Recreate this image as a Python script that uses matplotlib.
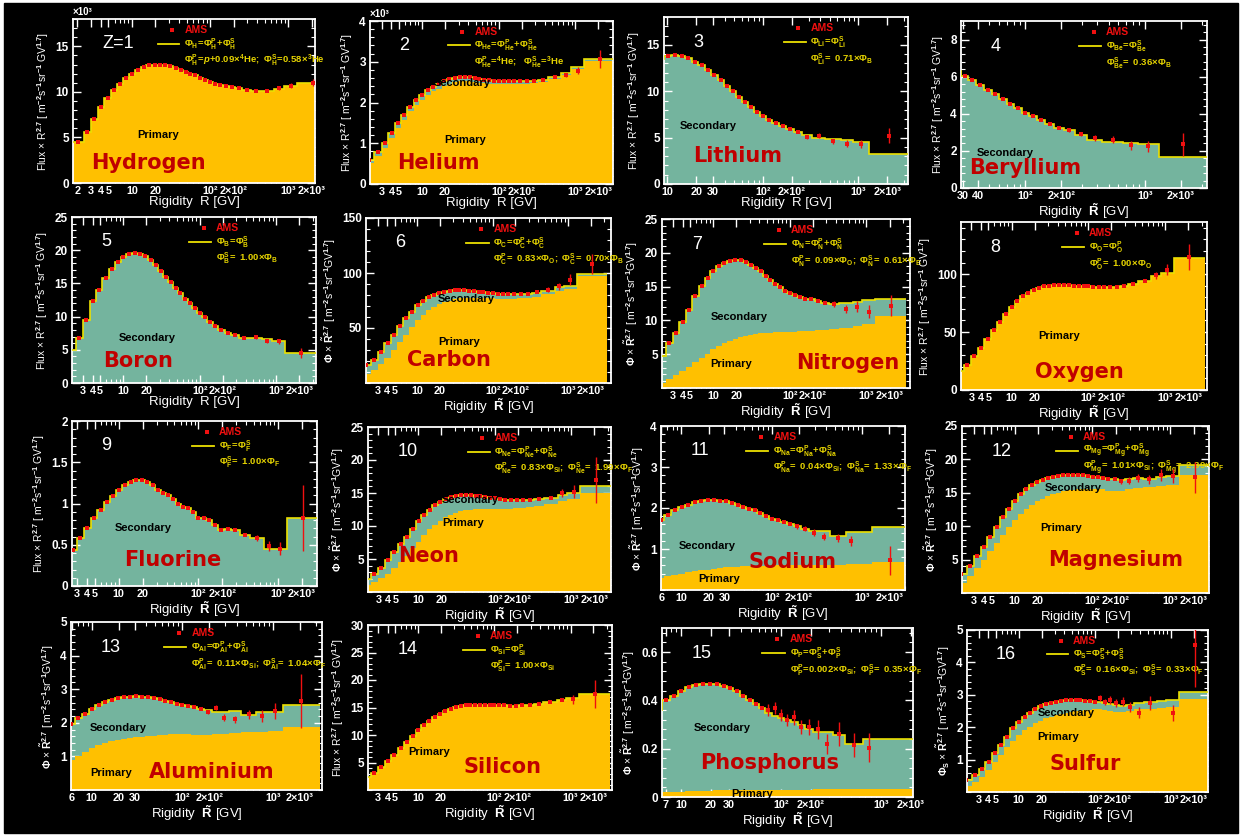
import numpy as np
import matplotlib.pyplot as plt
from matplotlib.patches import Rectangle
from matplotlib.ticker import (FixedLocator, FixedFormatter, LogLocator, NullFormatter,
                               AutoMinorLocator, FormatStrFormatter)

plt.rcParams['font.family'] = 'Liberation Sans'
plt.rcParams['font.weight'] = 'bold'
plt.rcParams['mathtext.fontset'] = 'custom'
plt.rcParams['mathtext.rm'] = 'Liberation Sans:bold'
plt.rcParams['mathtext.bf'] = 'Liberation Sans:bold'
plt.rcParams['mathtext.it'] = 'Liberation Sans:italic:bold'
plt.rcParams['mathtext.default'] = 'bf'

# rigidity bin edges [GV]
edges = [1.75, 2.40, 2.97, 3.64, 4.43, 5.37, 6.47, 7.76, 9.26, 11.0, 13.0, 15.3, 18.0, 21.1,
         24.7, 28.8, 33.5, 38.9, 45.1, 52.2, 60.3, 69.7, 80.5, 93.0, 108, 125, 147, 175, 211,
         259, 330, 441, 660, 880, 1300, 3300]

# flux x R^2.7 per bin: model total, primary part, AMS points that differ (last bins) + errors
h_tot = [4.5, 5.6, 7.0, 8.3, 9.3, 10.2, 10.9, 11.5, 12.0, 12.4, 12.7, 12.9, 13.0, 13.0, 12.9, 12.8,
         12.6, 12.4, 12.2, 12.0, 11.8, 11.5, 11.3, 11.1, 10.9, 10.8, 10.6, 10.5, 10.4, 10.2, 10.1,
         10.1, 10.3, 10.6, 11.0]
h_ams = [10.15, 10.4, 10.7, 11.0]
h_err = [0.1, 0.15, 0.25, 0.4]

he_tot = [0.6, 0.78, 1.0, 1.25, 1.5, 1.7, 1.9, 2.06, 2.19, 2.31, 2.38, 2.45, 2.52, 2.57, 2.61, 2.63,
          2.63, 2.62, 2.6, 2.58, 2.56, 2.54, 2.53, 2.53, 2.53, 2.52, 2.52, 2.52, 2.52, 2.53, 2.56,
          2.62, 2.72, 2.86, 3.06]
he_prim = [0.52, 0.68, 0.89, 1.13, 1.38, 1.58, 1.78, 1.94, 2.07, 2.19, 2.27, 2.34, 2.41, 2.46, 2.5,
           2.52, 2.53, 2.52, 2.5, 2.49, 2.47, 2.46, 2.45, 2.45, 2.45, 2.45, 2.45, 2.45, 2.46, 2.47,
           2.5, 2.57, 2.67, 2.81, 3.02]
he_ams = [2.68, 2.78, 3.06]
he_err = [0.05, 0.08, 0.22]

li_tot = [6.0, 7.5, 9.0, 10.5, 11.5, 12.4, 13.0, 13.5, 13.8, 13.9, 13.85, 13.6, 13.2, 12.8, 12.3,
          11.8, 11.2, 10.6, 10.0, 9.35, 8.8, 8.3, 7.8, 7.3, 6.9, 6.55, 6.2, 5.9, 5.65, 5.3, 4.95,
          4.8, 4.75, 4.5, 3.2]
li_ams = [5.6, 5.1, 5.2, 4.6, 4.35, 4.3, 5.2]
li_err = [0.15, 0.2, 0.25, 0.3, 0.35, 0.4, 0.8]

be_tot = [3.0, 3.6, 4.3, 5.0, 5.6, 6.1, 6.5, 6.8, 7.0, 7.1, 7.1, 7.0, 6.8, 6.6, 6.3, 6.05, 5.8,
          5.55, 5.3, 5.05, 4.8, 4.55, 4.3, 4.05, 3.9, 3.65, 3.45, 3.25, 3.1, 2.85, 2.6, 2.5, 2.45,
          2.35, 1.65]
be_ams = [3.1, 2.9, 2.7, 2.6, 2.3, 2.25, 2.35]
be_err = [0.1, 0.12, 0.15, 0.2, 0.25, 0.3, 0.6]

b_tot = [4.9, 6.8, 9.5, 12.3, 14.0, 15.8, 17.1, 18.2, 19.0, 19.5, 19.6, 19.4, 19.1, 18.5, 17.8,
         16.9, 16.0, 15.2, 14.3, 13.5, 12.7, 12.0, 11.3, 10.6, 9.9, 9.2, 8.6, 8.0, 7.6, 7.2, 6.8,
         6.8, 6.6, 6.3, 4.5]
b_ams = [6.8, 6.9, 6.3, 6.3, 4.5]
b_err = [0.2, 0.3, 0.35, 0.4, 0.8]

c_tot = [16, 21, 28, 36, 44, 52, 59, 65, 70.5, 75, 78, 80, 82, 83, 84, 84.5, 84.5, 84.5, 84, 83.5,
         83, 82.5, 82, 81.5, 81, 81, 80.5, 80.5, 80.5, 81, 82, 84, 87, 88.5, 99]
c_prim = [8.5, 12, 17, 23, 30, 37, 44, 51, 57, 62, 66, 69, 71.5, 73.5, 75, 76, 77, 77.5, 77.5, 77.5,
          77.5, 77.5, 77, 77, 76.5, 76.5, 76.5, 76.5, 77, 77.5, 78.5, 80.5, 84, 85.5, 97]
c_ams = [83, 85, 88, 94, 108]
c_err = [1.5, 2, 3, 5, 9]

n_tot = [4.75, 6.7, 8.2, 9.7, 11.6, 13.6, 15.1, 16.3, 17.3, 18.0, 18.5, 18.8, 19.0, 18.9, 18.6,
         18.2, 17.7, 17.3, 16.6, 16.0, 15.4, 14.9, 14.4, 14.0, 13.7, 13.4, 13.2, 13.1, 12.8, 12.6,
         12.45, 12.6, 12.7, 13.0, 13.2]
n_prim = [0.8, 1.3, 1.9, 2.5, 3.1, 3.8, 4.5, 5.1, 5.7, 6.2, 6.6, 7.0, 7.3, 7.5, 7.7, 7.9, 8.0, 8.1,
          8.15, 8.2, 8.25, 8.3, 8.3, 8.35, 8.35, 8.4, 8.4, 8.5, 8.55, 8.6, 8.7, 8.9, 9.1, 9.4, 10.6]
n_ams = [12.4, 11.7, 12.0, 11.3, 12.2]
n_err = [0.4, 0.6, 0.8, 1.0, 1.6]

o_tot = [16, 22, 29, 36, 44, 52, 59, 66, 72, 77, 81, 84, 86.5, 88, 89.5, 90, 90.5, 90.5, 90.5,
         90.5, 90, 90, 89.5, 89.5, 89, 89, 88.5, 88.5, 89, 90, 91.5, 94, 98, 101, 114]
o_ams = [99, 104, 115]
o_err = [3, 5, 11]

f_tot = [0.4, 0.44, 0.58, 0.70, 0.82, 0.92, 1.02, 1.09, 1.16, 1.22, 1.26, 1.28, 1.28, 1.26, 1.23,
         1.16, 1.13, 1.10, 1.06, 1.0, 0.96, 0.94, 0.90, 0.82, 0.82, 0.8, 0.74, 0.68, 0.69, 0.68,
         0.62, 0.58, 0.45, 0.45, 0.83]
f_ams = [0.58, 0.48, 0.45, 0.83]
f_err = [0.04, 0.06, 0.08, 0.4]

ne_tot = [2.0, 2.8, 3.7, 4.8, 6.0, 7.2, 8.4, 9.6, 10.7, 11.7, 12.5, 13.2, 13.7, 14.1, 14.4, 14.6,
          14.7, 14.7, 14.7, 14.6, 14.5, 14.4, 14.3, 14.2, 14.1, 14.0, 13.9, 13.9, 13.9, 14.0, 14.1,
          14.3, 14.7, 15.0, 16.0]
ne_prim = [1.0, 1.5, 2.1, 2.8, 3.6, 4.5, 5.5, 6.6, 7.6, 8.6, 9.5, 10.2, 10.8, 11.3, 11.7, 12.0,
           12.2, 12.4, 12.5, 12.6, 12.6, 12.6, 12.6, 12.6, 12.6, 12.6, 12.6, 12.7, 12.8, 12.9, 13.1,
           13.4, 13.8, 14.1, 15.0]
ne_ams = [15.0, 15.2, 17.0]
ne_err = [0.6, 1.0, 3.5]

na_tot = [0.9, 1.05, 1.2, 1.35, 1.5, 1.7, 1.84, 1.94, 2.02, 2.08, 2.14, 2.18, 2.2, 2.2, 2.18, 2.16,
          2.12, 2.08, 2.02, 1.98, 1.94, 1.88, 1.8, 1.72, 1.7, 1.66, 1.6, 1.56, 1.5, 1.44, 1.44,
          1.32, 1.42, 1.42, 1.54]
na_prim = [0.1, 0.13, 0.16, 0.2, 0.24, 0.29, 0.33, 0.37, 0.4, 0.43, 0.46, 0.48, 0.5, 0.52, 0.54,
           0.55, 0.56, 0.57, 0.575, 0.58, 0.585, 0.59, 0.59, 0.595, 0.6, 0.6, 0.6, 0.61, 0.61,
           0.615, 0.62, 0.62, 0.63, 0.64, 0.68]
na_ams = [1.55, 1.5, 1.4, 1.3, 1.27, 1.2, np.nan, 0.72]
na_err = [0.06, 0.07, 0.08, 0.09, 0.1, 0.12, np.nan, 0.35]

mg_tot = [2.9, 4.0, 5.5, 6.9, 8.4, 9.9, 11.4, 12.6, 13.8, 14.8, 15.6, 16.1, 16.6, 16.9, 17.2, 17.4,
          17.5, 17.6, 17.7, 17.7, 17.6, 17.6, 17.5, 17.4, 17.3, 17.2, 17.1, 17.0, 16.9, 17.0, 17.2,
          17.1, 17.4, 17.45, 19.1]
mg_prim = [1.5, 2.5, 3.7, 5.0, 6.3, 7.5, 8.7, 9.9, 10.9, 11.8, 12.6, 13.2, 13.7, 14.1, 14.5, 14.8,
           15.0, 15.2, 15.35, 15.45, 15.5, 15.55, 15.6, 15.6, 15.6, 15.5, 15.3, 15.2, 15.2, 15.5,
           15.7, 15.8, 16.0, 16.2, 17.6]
mg_ams = [16.7, 16.8, 17.2, 17.0, 17.6, 17.5, 17.3]
mg_err = [0.4, 0.5, 0.6, 0.7, 0.9, 1.1, 2.3]

al_tot = [1.0, 1.2, 1.4, 1.6, 1.78, 1.97, 2.14, 2.27, 2.41, 2.53, 2.61, 2.67, 2.73, 2.76, 2.78,
          2.79, 2.78, 2.77, 2.75, 2.71, 2.66, 2.61, 2.56, 2.53, 2.51, 2.46, 2.41, 2.39, 2.32, 2.32,
          2.34, 2.24, 2.32, 2.32, 2.53]
al_prim = [0.3, 0.4, 0.5, 0.6, 0.72, 0.88, 1.02, 1.14, 1.24, 1.33, 1.4, 1.45, 1.49, 1.52, 1.55,
           1.57, 1.59, 1.6, 1.62, 1.64, 1.65, 1.66, 1.67, 1.67, 1.66, 1.64, 1.63, 1.64, 1.67, 1.68,
           1.69, 1.72, 1.74, 1.75, 1.87]
al_ams = [2.33, 2.45, 2.15, 2.1, 2.25, 2.2, 2.35, 2.65]
al_err = [0.06, 0.08, 0.1, 0.1, 0.13, 0.18, 0.25, 0.8]

si_tot = [2.3, 3.1, 4.1, 5.2, 6.4, 7.6, 8.8, 9.9, 10.9, 11.8, 12.6, 13.3, 13.9, 14.4, 14.8, 15.1,
          15.3, 15.4, 15.5, 15.5, 15.5, 15.5, 15.5, 15.4, 15.4, 15.4, 15.3, 15.3, 15.4, 15.5, 15.7,
          16.0, 16.4, 16.8, 17.5]
si_ams = [16.5, 17.5]
si_err = [0.8, 2.5]

p_tot = [0.2, 0.23, 0.26, 0.3, 0.33, 0.36, 0.40, 0.42, 0.44, 0.455, 0.465, 0.47, 0.47, 0.47, 0.46,
         0.45, 0.44, 0.42, 0.40, 0.384, 0.367, 0.35, 0.337, 0.326, 0.32, 0.31, 0.297, 0.28, 0.27,
         0.268, 0.258, 0.22, 0.242, 0.242, 0.242]
p_prim = [0.008, 0.01, 0.012, 0.014, 0.016, 0.018, 0.02, 0.021, 0.022, 0.023, 0.024, 0.025, 0.026,
          0.027, 0.028, 0.028, 0.029, 0.029, 0.03, 0.03, 0.03, 0.031, 0.031, 0.031, 0.031, 0.031,
          0.031, 0.031, 0.032, 0.032, 0.032, 0.033, 0.033, 0.033, 0.034]
p_ams = [0.36, 0.37, 0.34, 0.32, 0.33, 0.29, 0.29, 0.28, 0.22, 0.26, 0.215, 0.205, np.nan, np.nan]
p_err = [0.025, 0.025, 0.025, 0.025, 0.03, 0.03, 0.035, 0.04, 0.04, 0.05, 0.05, 0.06, np.nan, np.nan]

s_tot = [0.38, 0.53, 0.71, 0.94, 1.2, 1.46, 1.71, 1.97, 2.17, 2.33, 2.45, 2.55, 2.64, 2.72, 2.76,
         2.79, 2.82, 2.84, 2.84, 2.84, 2.83, 2.82, 2.81, 2.79, 2.77, 2.74, 2.72, 2.69, 2.66, 2.69,
         2.76, 2.79, 2.81, 2.84, 3.1]
s_prim = [0.17, 0.3, 0.47, 0.68, 0.92, 1.15, 1.38, 1.58, 1.75, 1.9, 2.02, 2.12, 2.2, 2.27, 2.33,
          2.38, 2.42, 2.45, 2.47, 2.49, 2.51, 2.53, 2.54, 2.55, 2.55, 2.53, 2.5, 2.48, 2.46, 2.5,
          2.55, 2.57, 2.59, 2.61, 2.87]
s_ams = [2.9, 2.78, 2.85, 2.75, 2.78, 2.62, 2.45, 2.75, np.nan, 2.45, 4.55]
s_err = [0.1, 0.1, 0.12, 0.12, 0.14, 0.15, 0.18, 0.22, np.nan, 0.25, 1.3]

tick_text = {2: '2', 3: '3', 4: '4', 5: '5', 6: '6', 7: '7', 10: '10', 20: '20', 30: '30', 40: '40',
             100: '10²', 200: '2×10²', 1000: '10³', 2000: '2×10³'}
X_LOW = [2, 3, 4, 5, 10, 20, 100, 200, 1000, 2000]
X_STD = [3, 4, 5, 10, 20, 100, 200, 1000, 2000]

FLUX = r'Flux × R$^{2.7}$ [ m$^{-2}$s$^{-1}$sr$^{-1}$ GV$^{1.7}$]'
PHI = r'$\Phi$ × $\tilde{R}^{2.7}$ [ m$^{-2}$s$^{-1}$sr$^{-1}$GV$^{1.7}$]'
PHIS = r'$\Phi_S$ × $\tilde{R}^{2.7}$ [ m$^{-2}$s$^{-1}$sr$^{-1}$GV$^{1.7}$]'
XR = 'Rigidity  R [GV]'
XRT = r'Rigidity  $\tilde{R}$ [GV]'

W, H = 1248, 835
YEL = '#ffc000'
TEAL = '#74b49e'
LINE = '#ece000'
RED = '#f01010'
NAME = '#c00000'
FORM = '#e6d400'


def pf(el, a, b, pa, pb):
    return (rf'$\Phi_{{{el}}}\!=\!\Phi_{{{el}}}^P\!+\!\Phi_{{{el}}}^S$',
            rf'$\Phi_{{{el}}}^P\!=\ {a}\!\times\!\Phi_{{{pa}}};\ \Phi_{{{el}}}^S\!=\ {b}\!\times\!\Phi_{{{pb}}}$')


def sf(el, k, src, sup='S'):
    return (rf'$\Phi_{{{el}}}\!=\!\Phi_{{{el}}}^{sup}$', rf'$\Phi_{{{el}}}^{sup}\!=\ {k}\!\times\!\Phi_{{{src}}}$')


panels = [
    dict(box=(73, 315, 19, 183), name='Hydrogen', num='Z=1', tot=h_tot, prim=h_tot, ams=h_ams, err=h_err,
         xlim=(1.76, 2200), ylim=(0, 18), yt=[0, 5, 10, 15], xt=X_LOW, yl=FLUX, xl=XR, legx=0.46,
         form=(r'$\Phi_H\!=\!\Phi_H^P\!+\!\Phi_H^S$',
               r'$\Phi_H^P\!=\!\mathit{p}\!+\!0.09\!\times\!{}^4He;\ \Phi_H^S\!=\!0.58\!\times\!{}^3He$'),
         npos=(0.31, 0.12), labs=[('Primary', 0.35, 0.29)], scale=True),
    dict(box=(370, 613, 21, 184), name='Helium', num='2', tot=he_tot, prim=he_prim, ams=he_ams, err=he_err,
         xlim=(2.1, 3100), ylim=(0, 4), yt=[0, 1, 2, 3, 4], xt=X_STD, yl=FLUX, xl=XR, legx=0.43,
         form=(r'$\Phi_{He}\!=\!\Phi_{He}^P\!+\!\Phi_{He}^S$', r'$\Phi_{He}^P\!=\!{}^4He;\ \ \Phi_{He}^S\!=\!{}^3He$'),
         npos=(0.28, 0.13), labs=[('Primary', 0.39, 0.27), ('Secondary', 0.38, 0.62)], scale=True),
    dict(box=(664, 908, 17, 184), name='Lithium', num='3', tot=li_tot, prim=None, ams=li_ams, err=li_err,
         xlim=(9.2, 3300), ylim=(0, 18), yt=[0, 5, 10, 15], xt=[10, 20, 30, 100, 200, 1000, 2000],
         yl=FLUX, xl=XR, legx=0.60, form=sf('Li', '0.71', 'B'), npos=(0.30, 0.17),
         labs=[('Secondary', 0.18, 0.35)]),
    dict(box=(961, 1207, 21, 188), name='Beryllium', num='4', tot=be_tot, prim=None, ams=be_ams, err=be_err,
         xlim=(29, 3300), ylim=(0, 9), yt=[0, 2, 4, 6, 8], xt=[30, 40, 100, 200, 1000, 2000],
         yl=FLUX, xl=XRT, legx=0.59, form=sf('Be', '0.36', 'B'), npos=(0.26, 0.12),
         labs=[('Secondary', 0.18, 0.21)]),
    dict(box=(72, 316, 217, 383), name='Boron', num='5', tot=b_tot, prim=None, ams=b_ams, err=b_err,
         xlim=(2.15, 3300), ylim=(0, 25), yt=[0, 5, 10, 15, 20, 25], xt=X_STD, yl=FLUX, xl=XR, legx=0.59,
         form=sf('B', '1.00', 'B'), npos=(0.27, 0.13), labs=[('Secondary', 0.31, 0.27)]),
    dict(box=(366, 611, 218, 383), name='Carbon', num='6', tot=c_tot, prim=c_prim, ams=c_ams, err=c_err,
         xlim=(2.08, 3700), ylim=(0, 150), yt=[50, 100, 150], xt=X_STD, yl=PHI, xl=XRT, legx=0.52,
         form=pf('C', '0.83', '0.70', 'O', 'B'), npos=(0.34, 0.14),
         labs=[('Secondary', 0.41, 0.51), ('Primary', 0.38, 0.25)]),
    dict(box=(662, 910, 219, 388), name='Nitrogen', num='7', tot=n_tot, prim=n_prim, ams=n_ams, err=n_err,
         xlim=(2.16, 3700), ylim=(0, 25), yt=[5, 10, 15, 20, 25], xt=X_STD, yl=PHI, xl=XRT, legx=0.52,
         form=pf('N', '0.09', '0.61', 'O', 'B'), npos=(0.75, 0.15),
         labs=[('Secondary', 0.31, 0.42), ('Primary', 0.28, 0.14)]),
    dict(box=(961, 1207, 222, 390), name='Oxygen', num='8', tot=o_tot, prim=o_tot, ams=o_ams, err=o_err,
         xlim=(2.2, 3500), ylim=(0, 145), yt=[0, 50, 100], xt=X_STD, yl=FLUX, xl=XRT, legx=0.52,
         form=sf('O', '1.00', 'O', 'P'), npos=(0.48, 0.11), labs=[('Primary', 0.40, 0.32)]),
    dict(box=(72, 317, 421, 586), name='Fluorine', num='9', tot=f_tot, prim=None, ams=f_ams, err=f_err,
         xlim=(2.58, 3100), ylim=(0, 2), yt=[0, 0.5, 1, 1.5, 2], xt=X_STD, yl=FLUX, xl=XRT, legx=0.60,
         form=sf('F', '1.00', 'F'), npos=(0.41, 0.16), labs=[('Secondary', 0.29, 0.35)]),
    dict(box=(368, 611, 427, 592), name='Neon', num='10', tot=ne_tot, prim=ne_prim, ams=ne_ams, err=ne_err,
         xlim=(2.2, 3300), ylim=(0, 25), yt=[5, 10, 15, 20, 25], xt=X_STD, yl=PHI, xl=XRT, legx=0.52,
         form=pf('Ne', '0.83', '1.99', 'Si', 'F'), npos=(0.25, 0.22),
         labs=[('Secondary', 0.42, 0.56), ('Primary', 0.39, 0.42)]),
    dict(box=(661, 905, 426, 590), name='Sodium', num='11', tot=na_tot, prim=na_prim, ams=na_ams, err=na_err,
         xlim=(5.95, 3000), ylim=(0, 4), yt=[1, 2, 3, 4], xt=[6, 10, 20, 30, 100, 200, 1000, 2000],
         yl=PHI, xl=XRT, legx=0.46, form=pf('Na', '0.04', '1.33', 'Si', 'F'), npos=(0.54, 0.17),
         labs=[('Secondary', 0.19, 0.27), ('Primary', 0.24, 0.07)]),
    dict(box=(962, 1209, 426, 593), name='Magnesium', num='12', tot=mg_tot, prim=mg_prim, ams=mg_ams, err=mg_err,
         xlim=(2.1, 3150), ylim=(0, 25), yt=[5, 10, 15, 20, 25], xt=X_STD, yl=PHI, xl=XRT, legx=0.49,
         form=pf('Mg', '1.01', '2.39', 'Si', 'F'), npos=(0.62, 0.20),
         labs=[('Secondary', 0.45, 0.63), ('Primary', 0.40, 0.39)]),
    dict(box=(71, 322, 622, 790), name='Aluminium', num='13', tot=al_tot, prim=al_prim, ams=al_ams, err=al_err,
         xlim=(5.9, 3500), ylim=(0, 5), yt=[1, 2, 3, 4, 5], xt=[6, 10, 20, 30, 100, 200, 1000, 2000],
         yl=PHI, xl=XRT, legx=0.48, form=pf('Al', '0.11', '1.04', 'Si', 'F'), npos=(0.56, 0.11),
         labs=[('Secondary', 0.19, 0.37), ('Primary', 0.16, 0.10)]),
    dict(box=(368, 612, 625, 790), name='Silicon', num='14', tot=si_tot, prim=si_tot, ams=si_ams, err=si_err,
         xlim=(2.2, 3500), ylim=(0, 30), yt=[5, 10, 15, 20, 25, 30], xt=X_STD, yl=FLUX, xl=XRT, legx=0.50,
         form=sf('Si', '1.00', 'Si', 'P'), npos=(0.55, 0.14), labs=[('Primary', 0.25, 0.23)]),
    dict(box=(662, 913, 628, 797), name='Phosphorus', num='15', tot=p_tot, prim=p_prim, ams=p_ams, err=p_err,
         xlim=(6.45, 2100), ylim=(0, 0.7), yt=[0, 0.2, 0.4, 0.6], xt=[7, 10, 20, 30, 100, 200, 1000, 2000],
         yl=PHI, xl=XRT, legx=0.51,
         form=(r'$\Phi_P\!=\!\Phi_S^P\!+\!\Phi_P^S$',
               r'$\Phi_P^P\!=\!0.002\!\times\!\Phi_{Si};\ \Phi_P^S\!=\ 0.35\!\times\!\Phi_F$'),
         npos=(0.43, 0.20), labs=[('Secondary', 0.24, 0.41), ('Primary', 0.36, 0.02)]),
    dict(box=(967, 1208, 630, 792), name='Sulfur', num='16', tot=s_tot, prim=s_prim, ams=s_ams, err=s_err,
         xlim=(2.09, 3100), ylim=(0, 5), yt=[1, 2, 3, 4, 5], xt=X_STD, yl=PHIS, xl=XRT, legx=0.44,
         form=pf('S', '0.16', '0.33', 'Si', 'F'), npos=(0.49, 0.17),
         labs=[('Secondary', 0.41, 0.49), ('Primary', 0.38, 0.34)]),
]

fig = plt.figure(figsize=(W / 100, H / 100), dpi=100, facecolor='white')
fig.patches.append(Rectangle((4 / W, 2 / H), 1234 / W, 830 / H, transform=fig.transFigure,
                             color='black', zorder=-10))

centres = np.sqrt(np.array(edges[:-1]) * np.array(edges[1:]))

for p in panels:
    l, r, t, b = p['box']
    ax = fig.add_axes([l / W, 1 - b / H, (r - l) / W, (b - t) / H])
    ax.set_facecolor('black')
    ax.set_xscale('log')

    ax.stairs(p['tot'], edges, baseline=0, fill=True, color=TEAL, lw=0, zorder=1)
    if p['prim'] is not None:
        ax.stairs(p['prim'], edges, baseline=0, fill=True, color=YEL, lw=0, zorder=2)
    ax.stairs(p['tot'], edges, baseline=None, color=LINE, lw=1.2, zorder=3)

    n = len(p['ams'])
    ax.plot(centres[:-n], p['tot'][:-n], 's', ms=2.8, mew=0, color=RED, zorder=5)
    ax.errorbar(centres[-n:], p['ams'], yerr=p['err'], fmt='s', ms=2.8, mew=0, color=RED,
                elinewidth=1.0, capsize=0, zorder=5)

    ax.set_xlim(*p['xlim'])
    ax.set_ylim(*p['ylim'])

    for s in ax.spines.values():
        s.set_color('white')
        s.set_linewidth(1.3)
    ax.xaxis.set_major_locator(FixedLocator(p['xt']))
    ax.xaxis.set_major_formatter(FixedFormatter([tick_text[v] for v in p['xt']]))
    ax.xaxis.set_minor_locator(LogLocator(base=10, subs=np.arange(2, 10), numticks=20))
    ax.xaxis.set_minor_formatter(NullFormatter())
    ax.yaxis.set_major_locator(FixedLocator(p['yt']))
    ax.yaxis.set_major_formatter(FormatStrFormatter('%g'))
    ax.yaxis.set_minor_locator(AutoMinorLocator(5))
    ax.tick_params(which='both', direction='in', colors='white', top=True, right=True)
    ax.tick_params(axis='y', labelsize=8.5, pad=3)
    ax.tick_params(axis='x', labelsize=7.8, pad=2.5)
    ax.tick_params(which='major', length=6, width=1)
    ax.tick_params(which='minor', length=3, width=0.8)

    ax.set_ylabel(p['yl'], color='white', fontsize=7.5, labelpad=3)
    ax.set_xlabel(p['xl'], color='white', fontsize=9.5, labelpad=0)

    if p.get('scale'):
        ax.text(0.0, 1.01, '×10³', transform=ax.transAxes, color='white',
                fontsize=7, va='bottom', ha='left')

    ax.text(0.12, 0.85, p['num'], transform=ax.transAxes, color='white', fontsize=13,
            fontweight='normal', ha='left', va='center')

    ax.text(p['npos'][0], p['npos'][1], p['name'], transform=ax.transAxes, color=NAME,
            fontsize=15, fontweight='bold', family='DejaVu Sans', ha='center', va='center', zorder=6)
    for txt, x, y in p['labs']:
        ax.text(x, y, txt, transform=ax.transAxes, color='black', fontsize=8,
                ha='center', va='center', zorder=6)

    a = p['legx']
    ax.plot([a - 0.05], [0.935], 's', ms=2.8, mew=0, color=RED, transform=ax.transAxes, zorder=6)
    ax.text(a, 0.935, 'AMS', transform=ax.transAxes, color=RED, fontsize=7.5, va='center')
    ax.plot([a - 0.11, a - 0.02], [0.85, 0.85], color=LINE, lw=1.3, transform=ax.transAxes,
            zorder=6)
    ax.text(a, 0.85, p['form'][0], transform=ax.transAxes, color=FORM, fontsize=6.8, va='center')
    ax.text(a, 0.75, p['form'][1], transform=ax.transAxes, color=FORM, fontsize=6.8, va='center')

fig.savefig('out.png', dpi=100, facecolor='white')
